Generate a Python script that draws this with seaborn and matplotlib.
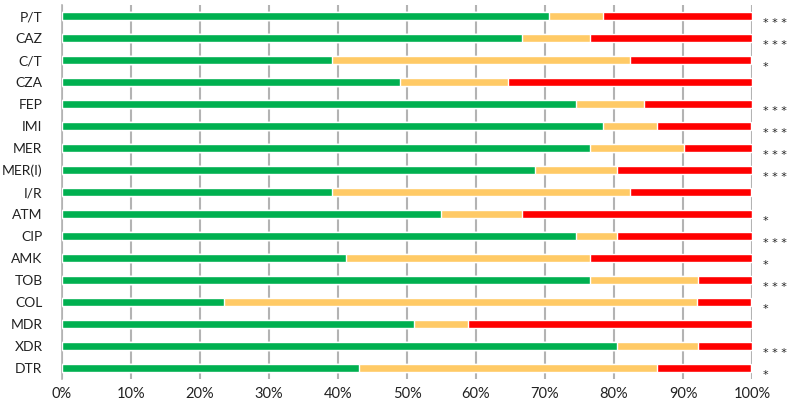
import numpy as np
import pandas as pd
import matplotlib
matplotlib.use('Agg')
import matplotlib.pyplot as plt
import seaborn as sns

# ─── Data (percent of isolates) ──────────────────────────────
categories = ['P/T', 'CAZ', 'C/T', 'CZA', 'FEP', 'IMI', 'MER', 'MER(I)', 'I/R',
              'ATM', 'CIP', 'AMK', 'TOB', 'COL', 'MDR', 'XDR', 'DTR']
green  = [70.6, 66.7, 39.2, 49.0, 74.5, 78.4, 76.5, 68.6, 39.2,
          54.9, 74.5, 41.2, 76.5, 23.5, 51.0, 80.4, 43.1]
orange = [7.8, 9.8, 43.1, 15.7, 9.8, 7.8, 13.7, 11.8, 43.1,
          11.8, 5.9, 35.3, 15.7, 68.6, 7.8, 11.8, 43.1]
red    = [21.6, 23.5, 17.6, 35.3, 15.7, 13.7, 9.8, 19.6, 17.6,
          33.3, 19.6, 23.5, 7.8, 7.8, 41.2, 7.8, 13.7]
stars  = ['* * *', '* * *', '*', '', '* * *', '* * *', '* * *', '* * *', '',
          '*', '* * *', '*', '* * *', '*', '', '* * *', '*']

C_GREEN, C_ORANGE, C_RED = '#00B050', '#FFCA66', '#FF0000'
GRID = '#b3b3b3'

df = pd.DataFrame({'cat': categories, 'green': green, 'orange': orange, 'red': red})
df['c1'] = df['green']
df['c2'] = df['green'] + df['orange']
df['c3'] = df['c2'] + df['red']

sns.set_style('white')
plt.rcParams['font.family'] = ['Lato', 'DejaVu Sans']

fig = plt.figure(figsize=(7.87, 4.07), dpi=100)
ax = fig.add_axes([62 / 787, 28 / 407, 690 / 787, 374 / 407])

# stacked bars: draw cumulative totals back to front
for col, c in [('c3', C_RED), ('c2', C_ORANGE), ('c1', C_GREEN)]:
    sns.barplot(data=df, x=col, y='cat', orient='h', color=c, width=0.4,
                saturation=1, ax=ax, zorder=3)

ax.set_xlim(0, 100)
ax.set_ylim(len(categories) - 0.5, -0.5)
ax.set_xticks(np.arange(0, 101, 10))
ax.set_xticklabels([f'{v}%' for v in range(0, 101, 10)], fontsize=10.5, color='#222222')
ax.tick_params(axis='x', length=0, pad=6)
ax.tick_params(axis='y', which='major', length=0, pad=14, labelsize=10, labelcolor='#222222')
ax.set_yticks(np.arange(-0.5, len(categories), 1), minor=True)
ax.tick_params(axis='y', which='minor', length=4, width=1, color=GRID)
ax.set_xlabel('')
ax.set_ylabel('')

ax.grid(axis='x', color=GRID, lw=1.5, zorder=0)
ax.set_axisbelow(True)
for s in ['top', 'right', 'bottom']:
    ax.spines[s].set_visible(False)
ax.spines['left'].set_color(GRID)
ax.spines['left'].set_linewidth(1.2)

# significance markers to the right of the bars
for i, s in enumerate(stars):
    if s:
        ax.text(101.6, i + 0.45, s, fontsize=8, va='baseline', ha='left',
                family='DejaVu Sans', color='#222222', clip_on=False)

plt.savefig('out.png', dpi=100)
plt.close()
